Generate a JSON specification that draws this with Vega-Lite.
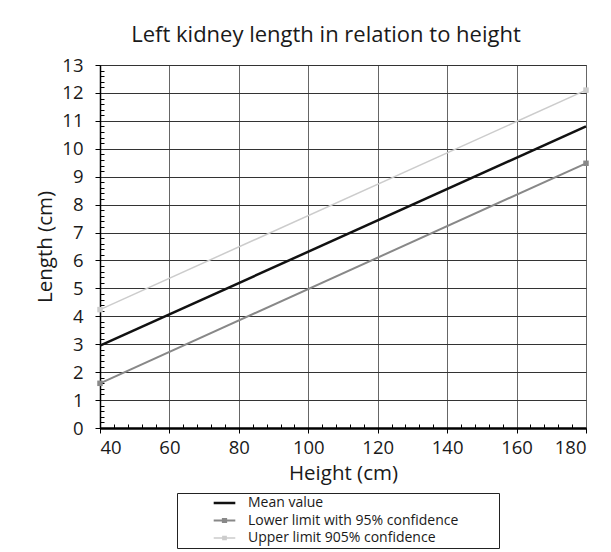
{
  "$schema": "https://vega.github.io/schema/vega-lite/v6.json",
  "autosize": {"type": "none"},
  "width": 486,
  "height": 363,
  "padding": {"left": 100, "top": 65, "right": 25, "bottom": 124},
  "background": "white",
  "title": {"text": "Left kidney length in relation to height", "font": "Open Sans", "fontSize": 22, "fontWeight": "normal", "color": "#1a1a1a", "offset": 9, "anchor": "middle", "dx": -17},
  "config": {
    "view": {"stroke": "#444", "strokeWidth": 1},
    "font": "Open Sans"
  },
  "data": {"values": [
    {"height": 40, "length": 2.95, "series": "Mean value"},
    {"height": 180, "length": 10.8, "series": "Mean value"},
    {"height": 40, "length": 1.6, "series": "Lower limit with 95% confidence"},
    {"height": 180, "length": 9.48, "series": "Lower limit with 95% confidence"},
    {"height": 40, "length": 4.24, "series": "Upper limit 905% confidence"},
    {"height": 180, "length": 12.1, "series": "Upper limit 905% confidence"}
  ]},
  "resolve": {"axis": {"x": "independent", "y": "independent"}},
  "layer": [
    {
      "mark": {"type": "point", "opacity": 0},
      "encoding": {
        "x": {"field": "height", "type": "quantitative", "scale": {"domain": [40, 180], "nice": false, "zero": false},
          "axis": {"orient": "bottom", "values": [44,48,52,56,64,68,72,76,84,88,92,96,104,108,112,116,124,128,132,136,144,148,152,156,164,168,172,176], "labels": false, "grid": false, "domain": false, "tickSize": -4, "tickColor": "#000", "tickWidth": 1, "title": null}},
        "y": {"field": "length", "type": "quantitative", "scale": {"domain": [0, 13], "nice": false, "zero": true},
          "axis": {"orient": "left", "values": [0.2,0.4,0.6,0.8,1.2,1.4,1.6,1.8,2.2,2.4,2.6,2.8,3.2,3.4,3.6,3.8,4.2,4.4,4.6,4.8,5.2,5.4,5.6,5.8,6.2,6.4,6.6,6.8,7.2,7.4,7.6,7.8,8.2,8.4,8.6,8.8,9.2,9.4,9.6,9.8,10.2,10.4,10.6,10.8,11.2,11.4,11.6,11.8,12.2,12.4,12.6,12.8], "labels": false, "grid": false, "domain": false, "tickSize": -4, "tickColor": "#000", "tickWidth": 1, "title": null}}
      }
    },
    {
      "mark": {"type": "line"},
      "encoding": {
        "x": {"field": "height", "type": "quantitative", "scale": {"domain": [40, 180], "nice": false, "zero": false},
          "axis": {"orient": "bottom", "values": [40,60,80,100,120,140,160,180], "grid": true, "gridColor": "#666", "gridWidth": 1, "domainColor": "#000", "domainWidth": 2.5, "tickColor": "#000", "tickSize": 5, "labelFont": "Open Sans", "labelFontSize": 18.5, "labelColor": "#1a1a1a", "labelPadding": 5, "title": "Height (cm)", "titleFont": "Open Sans", "titleFontSize": 20.5, "titleFontWeight": "normal", "titleColor": "#1a1a1a", "titlePadding": 7}},
        "y": {"field": "length", "type": "quantitative", "scale": {"domain": [0, 13], "nice": false, "zero": true},
          "axis": {"orient": "left", "values": [0,1,2,3,4,5,6,7,8,9,10,11,12,13], "grid": true, "gridColor": "#333", "gridWidth": 1, "domainColor": "#000", "domainWidth": 1.5, "tickColor": "#000", "tickSize": 5, "labelFont": "Open Sans", "labelFontSize": 18.5, "labelColor": "#1a1a1a", "labelPadding": 12, "title": "Length (cm)", "titleFont": "Open Sans", "titleFontSize": 20.5, "titleFontWeight": "normal", "titleColor": "#1a1a1a", "titlePadding": 6}},
        "color": {"field": "series", "type": "nominal",
          "scale": {"domain": ["Mean value", "Lower limit with 95% confidence", "Upper limit 905% confidence"], "range": ["#111111", "#888888", "#cccccc"]},
          "legend": {"title": " ", "titleOrient": "right", "titlePadding": 38, "orient": "none", "legendX": 77, "legendY": 428, "direction": "vertical",
            "strokeColor": "#222", "padding": 3, "symbolOffset": 32, "labelOffset": 11, "labelFont": "Open Sans", "labelFontSize": 14, "labelColor": "#1a1a1a", "labelLimit": 400, "rowPadding": 3.5, "symbolSize": 467, "clipHeight": 14,
            "encode": {"symbols": {"update": {
              "shape": {"signal": "datum.value === 'Mean value' ? 'M-1,0H1' : 'M-1,0H1M-0.15,-0.15H0.15V0.15H-0.15Z'"},
              "stroke": {"scale": "color", "field": "value"},
              "fill": {"signal": "datum.value === 'Mean value' ? 'transparent' : scale('color', datum.value)"},
              "strokeWidth": {"signal": "datum.value === 'Mean value' ? 3 : 1.5"}
            }}}}},
        "strokeWidth": {"field": "series", "type": "nominal", "scale": {"domain": ["Mean value", "Lower limit with 95% confidence", "Upper limit 905% confidence"], "range": [2.5, 1.5, 1.5]}, "legend": null}
      }
    },
    {
      "transform": [{"filter": "datum.series !== 'Mean value'"}],
      "mark": {"type": "square", "size": 30, "opacity": 1, "filled": true},
      "encoding": {
        "x": {"field": "height", "type": "quantitative", "axis": null},
        "y": {"field": "length", "type": "quantitative", "axis": null},
        "color": {"field": "series", "type": "nominal", "legend": null}
      }
    }
  ]
}
